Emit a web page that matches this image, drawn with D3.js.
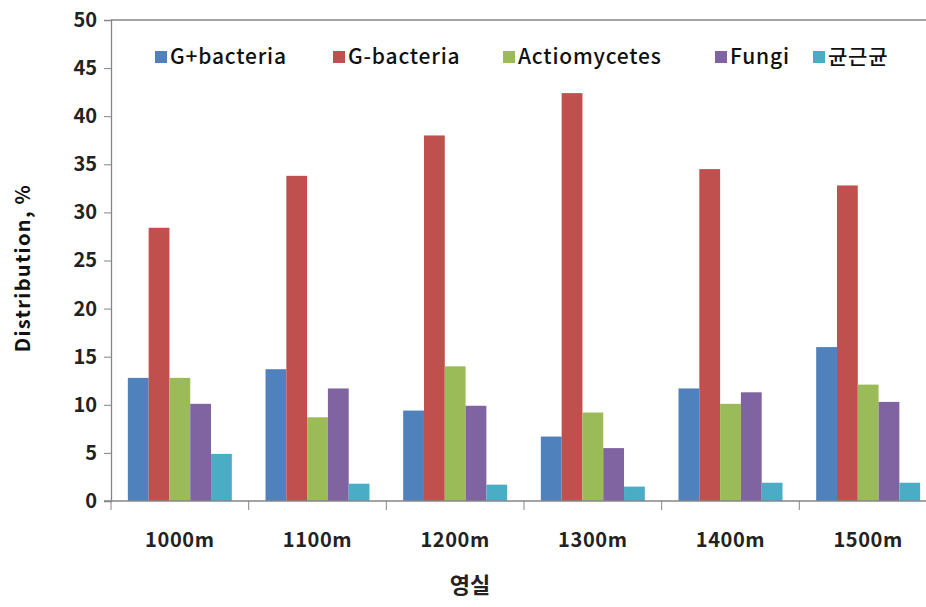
<!DOCTYPE html>
<html>
<head>
<meta charset="utf-8">
<script src="https://cdn.jsdelivr.net/npm/d3@7"></script>
<style>
  body { margin: 0; background: #fff; }
  text { font-family: "Noto Sans CJK KR", "Noto Sans", sans-serif; fill: #111; }
</style>
</head>
<body>
<div id="chart"></div>
<script>
// data
var categories = ["1000m", "1100m", "1200m", "1300m", "1400m", "1500m"];
var seriesNames = ["G+bacteria", "G-bacteria", "Actiomycetes", "Fungi", "균근균"];
var gPos = [12.8, 13.7, 9.4, 6.7, 11.7, 16.0];
var gNeg = [28.4, 33.8, 38.0, 42.4, 34.5, 32.8];
var actio = [12.8, 8.7, 14.0, 9.2, 10.1, 12.1];
var fungi = [10.1, 11.7, 9.9, 5.5, 11.3, 10.3];
var amf = [4.9, 1.8, 1.7, 1.5, 1.9, 1.9];
var yTicks = [0, 5, 10, 15, 20, 25, 30, 35, 40, 45, 50];
var colors = ["#4F81BD", "#C0504D", "#9BBB59", "#8064A2", "#4BACC6"];

var seriesValues = [gPos, gNeg, actio, fungi, amf];

var svgWidth = 926, svgHeight = 607;
var margin = { top: 20, left: 111, bottom: 106 };
var chartWidth = 826;
var chartHeight = svgHeight - margin.top - margin.bottom;

var svg = d3.select("#chart").append("svg")
    .attr("width", svgWidth)
    .attr("height", svgHeight);

var chartGroup = svg.append("g")
    .attr("transform", `translate(${margin.left}, ${margin.top})`);

var x0 = d3.scaleBand().domain(categories).range([0, chartWidth]).paddingInner(0).paddingOuter(0);
var x1 = d3.scaleBand().domain(seriesNames).range([0, x0.bandwidth()]).paddingInner(0).paddingOuter(0.81);
var y = d3.scaleLinear().domain([0, 50]).range([chartHeight, 0]);

// top border of plot area
chartGroup.append("line")
    .attr("x1", 0).attr("x2", chartWidth)
    .attr("y1", 0).attr("y2", 0)
    .attr("stroke", "#868686").attr("stroke-width", 1.3);

// bars
var rows = categories.map((c, i) => ({ cat: c, vals: seriesNames.map((s, j) => ({ s: s, v: seriesValues[j][i], c: colors[j] })) }));
var groups = chartGroup.selectAll(".grp").data(rows).enter().append("g")
    .attr("class", "grp")
    .attr("transform", d => `translate(${x0(d.cat)},0)`);
groups.selectAll("rect").data(d => d.vals).enter().append("rect")
    .attr("x", d => x1(d.s))
    .attr("width", x1.bandwidth())
    .attr("y", d => y(d.v))
    .attr("height", d => chartHeight - y(d.v))
    .attr("fill", d => d.c);

// y axis
var leftAxis = d3.axisLeft(y).tickValues(yTicks).tickSize(7).tickPadding(7);
var yAxis = chartGroup.append("g").call(leftAxis);
yAxis.select(".domain").attr("stroke", "#868686").attr("stroke-width", 1.3);
yAxis.selectAll(".tick line").attr("stroke", "#868686");
yAxis.selectAll(".tick text").attr("font-size", 20).attr("font-weight", "bold").style("fill", "#222");

// x axis: ticks at category boundaries
var xAxis = chartGroup.append("g").attr("transform", `translate(0, ${chartHeight})`);
xAxis.append("line").attr("x1", -7).attr("x2", chartWidth)
    .attr("stroke", "#868686").attr("stroke-width", 1.3);
xAxis.selectAll(".xt").data(categories.concat(["end"])).enter().append("line")
    .attr("x1", (d, i) => i * x0.step()).attr("x2", (d, i) => i * x0.step())
    .attr("y1", 0).attr("y2", 9)
    .attr("stroke", "#868686");
xAxis.selectAll(".xl").data(categories).enter().append("text")
    .attr("x", d => x0(d) + x0.bandwidth() / 2)
    .attr("y", 46)
    .attr("text-anchor", "middle")
    .attr("font-size", 20)
    .attr("font-weight", "bold")
    .attr("letter-spacing", 0.6)
    .style("fill", "#222")
    .text(d => d);

// axis titles
svg.append("text")
    .attr("x", 470).attr("y", 593)
    .attr("text-anchor", "middle")
    .attr("font-size", 22)
    .attr("font-weight", "bold")
    .style("fill", "#222")
    .text("영실");

svg.append("text")
    .attr("transform", "translate(30, 268) rotate(-90)")
    .attr("text-anchor", "middle")
    .attr("font-size", 20)
    .attr("font-weight", "bold")
    .attr("letter-spacing", 1.3)
    .style("fill", "#111")
    .text("Distribution, %");

// legend
var legendX = [155, 333, 503, 715, 813];
var legend = svg.selectAll(".leg").data(seriesNames).enter().append("g")
    .attr("transform", (d, i) => `translate(${legendX[i]}, 57)`);
legend.append("rect")
    .attr("x", 0).attr("y", -6)
    .attr("width", 12).attr("height", 12)
    .attr("fill", (d, i) => colors[i]);
legend.append("text")
    .attr("x", 15).attr("y", 0)
    .attr("dy", "0.35em")
    .attr("font-size", 21)
    .attr("font-weight", 500)
    .attr("letter-spacing", 0.8)
    .style("fill", "#111")
    .text(d => d);
</script>
</body>
</html>
